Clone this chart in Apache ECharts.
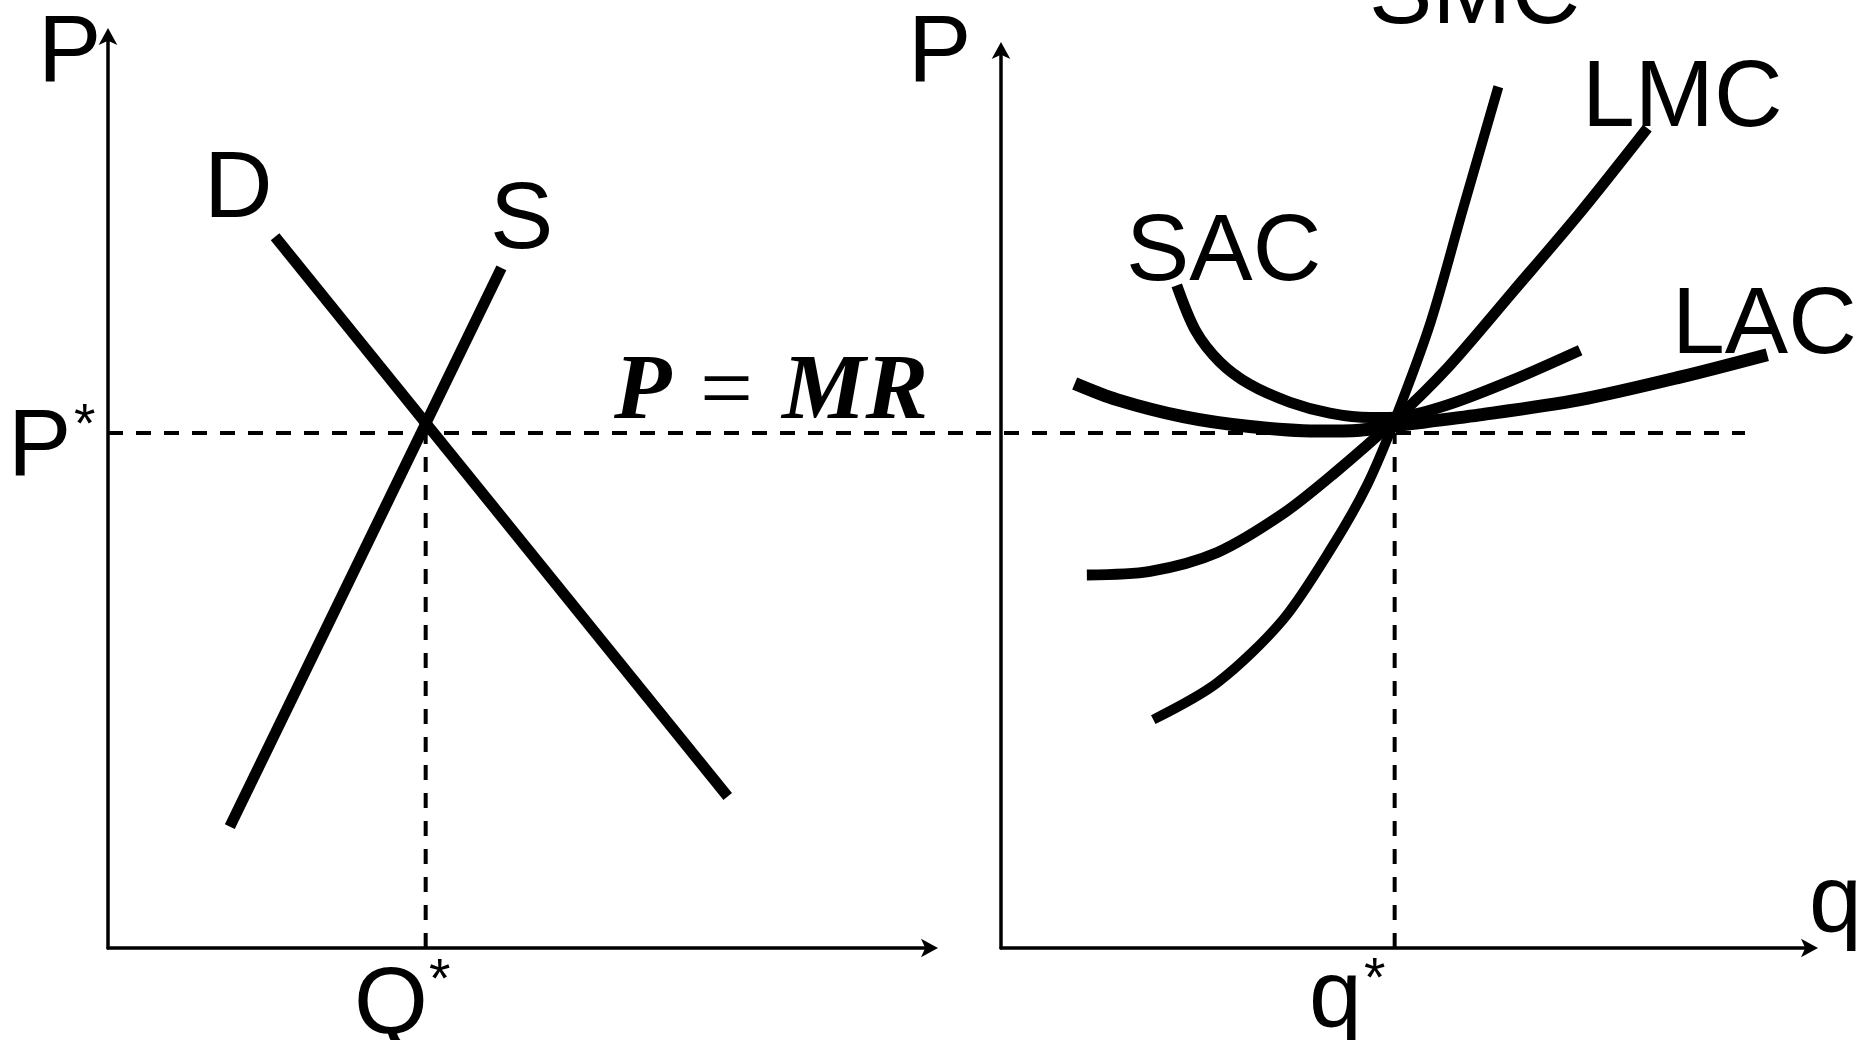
<!DOCTYPE html>
<html>
<head>
<meta charset="utf-8">
<script src="https://cdn.jsdelivr.net/npm/echarts@6/dist/echarts.min.js"></script>
<style>
  html, body { margin: 0; padding: 0; background: #fff; }
  #chart-container { width: 1858px; height: 1040px; }
</style>
</head>
<body>
<div id="chart-container"></div>
<script>
// left panel: market, both axes run 0..100
const demand = [[20.3, 77.9], [75.3, 16.6]];
const supply = [[14.8, 13.3], [47.8, 74.5]];
const pStar = 56.4;
const qStar = 38.6;
// the price line runs across both panels (own hidden grid, 0..100)
const priceLine = [[0, 56.4], [100, 56.4]];

// right panel: firm, both axes run 0..100
const qFirm = 48.6;
const pFirm = 57.3;
const smc = [[18.8, 25.4], [26.7, 29.5], [34.8, 36.5], [41.0, 44.8], [45.2, 51.5], [48.6, 58.7],
  [53.0, 69.5], [57.0, 82.1], [61.4, 95.8]];
const lmc = [[10.6, 41.5], [18.4, 41.9], [26.7, 44.0], [34.8, 48.3], [41.0, 52.7], [48.6, 58.7],
  [55.1, 64.5], [63.2, 73.0], [71.5, 81.8], [79.8, 91.2]];
const sac = [[21.7, 73.7], [24.0, 68.7], [27.0, 65.2], [30.7, 62.7], [35.7, 60.7], [40.6, 59.5],
  [45.6, 59.0], [49.3, 59.1], [55.1, 60.4], [63.2, 63.2], [71.5, 66.5]];
const lac = [[9.1, 62.8], [14.3, 61.0], [22.5, 59.1], [30.7, 58.0], [39.0, 57.5], [44.3, 57.6],
  [48.6, 58.1], [59.1, 59.3], [71.5, 61.0], [83.8, 63.5], [94.6, 66.0]];

const sans = '"Liberation Sans", Arial, sans-serif';
const serif = '"Liberation Serif", "Times New Roman", serif';

// text: [string, left x, baseline y, font]
const texts = [
  ['P', 38, 83, '95px ' + sans],
  ['P', 908, 83, '95px ' + sans],
  ['D', 204, 219, '95px ' + sans],
  ['S', 490, 250, '95px ' + sans],
  ['P', 8, 477, '95px ' + sans],
  ['*', 74, 443, '55px ' + sans],
  ['Q', 354, 1035, '95px ' + sans],
  ['*', 429, 998, '55px ' + sans],
  ['q', 1309, 1028, '95px ' + sans],
  ['*', 1364, 997, '55px ' + sans],
  ['q', 1809, 933, '95px ' + sans],
  ['SMC', 1369, 25, '95px ' + sans],
  ['LMC', 1582, 128, '95px ' + sans],
  ['SAC', 1126, 282, '95px ' + sans],
  ['LAC', 1672, 355, '95px ' + sans],
  ['P', 614, 413, 'italic bold 94px ' + serif],
  ['=', 700, 413, '94px ' + serif],
  ['MR', 782, 413, 'italic bold 94px ' + serif]
];

const axisStyle = {
  show: true,
  onZero: false,
  symbol: ['none', 'arrow'],
  symbolSize: [14, 17],
  symbolOffset: [0, 7],
  lineStyle: { color: '#000', width: 3.5 }
};

const mkAxis = (gridIndex, visible) => ({
  type: 'value', gridIndex: gridIndex, min: 0, max: 100, show: visible,
  axisLine: axisStyle, axisTick: { show: false }, axisLabel: { show: false }, splitLine: { show: false }
});

const solid = (name, data, grid, width, smooth) => ({
  name: name, type: 'line', xAxisIndex: grid, yAxisIndex: grid, data: data,
  smooth: smooth, showSymbol: false, silent: true, animation: false,
  lineStyle: { color: '#000', width: width, cap: 'butt' }
});

const dashed = (data, grid) => ({
  type: 'line', xAxisIndex: grid, yAxisIndex: grid, data: data,
  showSymbol: false, silent: true, animation: false,
  lineStyle: { color: '#000', width: 4, type: [15, 13] }
});

const start = () => {
  const chartDom = document.getElementById('chart-container');
  const myChart = echarts.init(chartDom, null, { renderer: 'canvas' });
  const option = {
    backgroundColor: '#fff',
    animation: false,
    grid: [
      { left: 108, top: 35, width: 823, height: 913 },
      { left: 1001, top: 49, width: 810, height: 899 },
      { left: 108, top: 35, width: 1637, height: 913 }
    ],
    xAxis: [mkAxis(0, true), mkAxis(1, true), mkAxis(2, false)],
    yAxis: [mkAxis(0, true), mkAxis(1, true), mkAxis(2, false)],
    series: [
      dashed(priceLine, 2),
      dashed([[qStar, 0], [qStar, pStar]], 0),
      dashed([[qFirm, 0], [qFirm, pFirm]], 1),
      solid('D', demand, 0, 11, false),
      solid('S', supply, 0, 11, false),
      solid('SMC', smc, 1, 10, 0.3),
      solid('LMC', lmc, 1, 11, 0.3),
      solid('SAC', sac, 1, 11, 0.3),
      solid('LAC', lac, 1, 13, 0.3)
    ],
    graphic: texts.map(t => ({
      type: 'text',
      silent: true,
      style: {
        text: t[0],
        x: t[1],
        y: t[2] - (t[3].indexOf('Serif') > 0 ? 19 : 0.295 * parseFloat(t[3])),
        fill: '#000',
        font: t[3],
        align: 'left',
        verticalAlign: 'middle'
      }
    }))
  };
  myChart.setOption(option);
};

start();
</script>
</body>
</html>
